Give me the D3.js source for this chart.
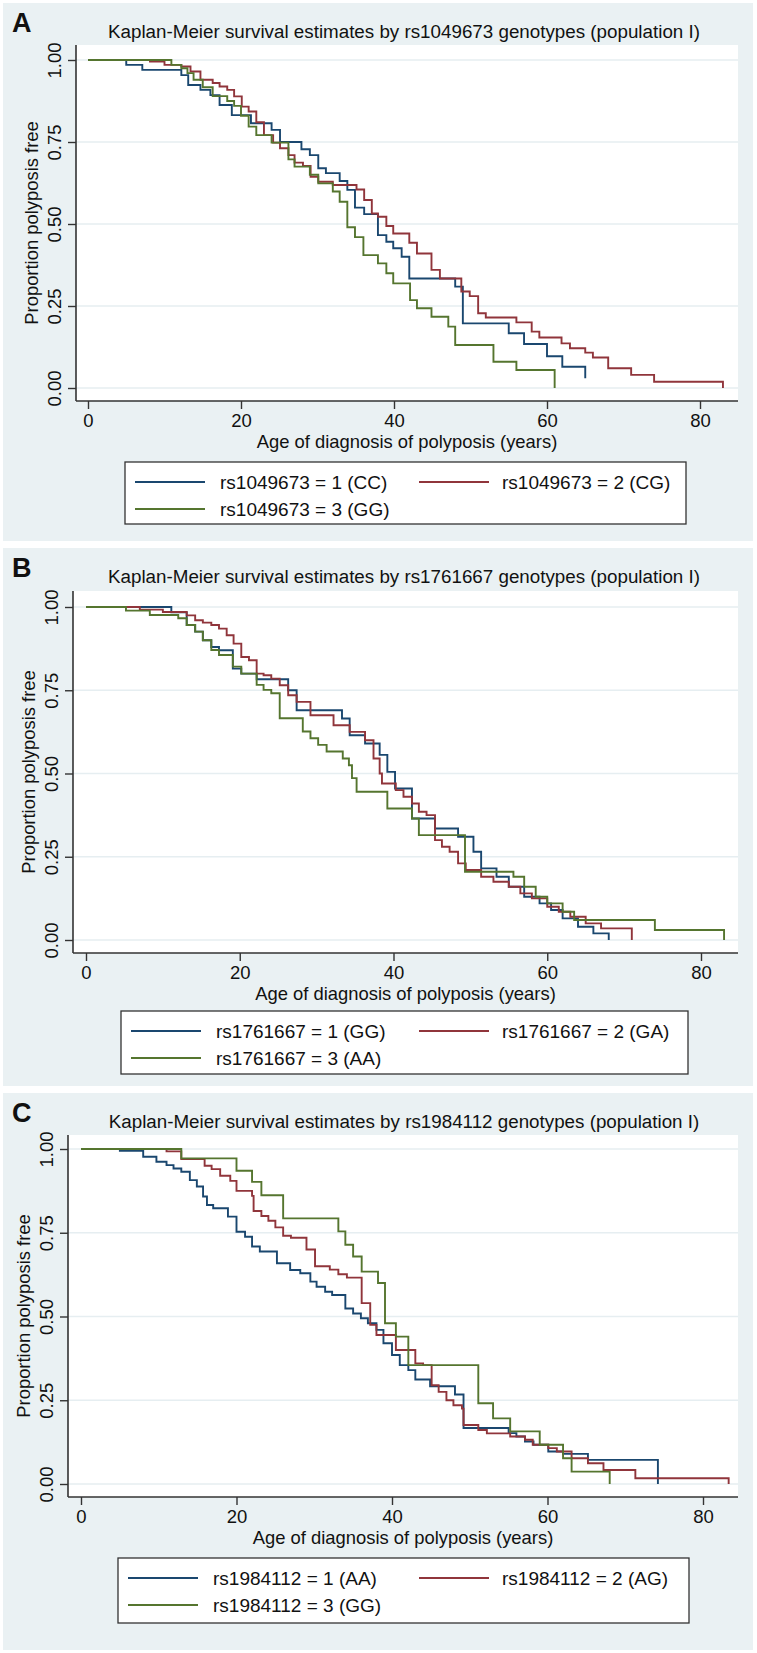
<!DOCTYPE html>
<html><head><meta charset="utf-8">
<script src="https://cdn.jsdelivr.net/npm/d3@7"></script>
<style>
body{margin:0;background:#fff;}
text{font-family:"Liberation Sans",Arial,Helvetica,sans-serif;fill:#111;}
</style>
</head><body>
<svg id="chart" width="757" height="1653"></svg>
<script>
// ---------- data ----------
const panelLetters = ["A", "B", "C"];
const snps = ["rs1049673", "rs1761667", "rs1984112"];
const genotypes = [["CC", "CG", "GG"], ["GG", "GA", "AA"], ["AA", "AG", "GG"]];
const xTicks = [0, 20, 40, 60, 80];
const yTicks = [0, 0.25, 0.5, 0.75, 1];
const yTickLabels = ["0.00", "0.25", "0.50", "0.75", "1.00"];
const xAxisTitle = "Age of diagnosis of polyposis (years)";
const yAxisTitle = "Proportion polyposis free";

// step points: [age, survival after the drop]
const A_g1 = [[0,1],[5,0.985],[7.1,0.97],[12.2,0.954],[13.1,0.924],[14.7,0.909],[16,0.893],[17.2,0.863],[18.8,0.832],[21.3,0.807],[24,0.787],[25.1,0.75],[27.9,0.728],[29,0.71],[30.1,0.67],[31.1,0.655],[32.9,0.631],[33.9,0.604],[34.9,0.55],[36.1,0.53],[37.9,0.466],[39,0.446],[39.9,0.426],[41,0.4],[42,0.334],[48,0.309],[49,0.197],[55,0.167],[57,0.134],[60,0.097],[62,0.065],[65,0.03]];
const A_g2 = [[0,1],[8.1,0.995],[10,0.985],[12.2,0.98],[13.4,0.965],[14.7,0.94],[16.3,0.93],[17.2,0.919],[18.2,0.909],[19.1,0.889],[20.1,0.858],[21,0.843],[22,0.81],[23,0.771],[24.2,0.748],[25.1,0.731],[26.2,0.71],[27,0.687],[28.1,0.677],[29.1,0.644],[30.1,0.629],[32,0.619],[35.1,0.605],[36.1,0.573],[37.1,0.532],[37.9,0.522],[39,0.494],[39.9,0.471],[42,0.443],[43,0.41],[44.9,0.36],[46,0.334],[48.8,0.294],[49.9,0.28],[51,0.228],[52,0.215],[56,0.2],[58,0.172],[59,0.154],[61.9,0.136],[63,0.121],[65,0.108],[66,0.093],[68,0.06],[71,0.04],[74,0.019],[83,0]];
const A_g3 = [[0,1],[10.9,0.985],[12.2,0.975],[13,0.96],[13.8,0.94],[15,0.917],[16.3,0.89],[18.2,0.875],[19.1,0.86],[20,0.83],[21,0.797],[22,0.771],[24,0.748],[26.2,0.697],[27,0.675],[29,0.65],[30.1,0.624],[32,0.599],[32.9,0.568],[33.9,0.49],[34.9,0.46],[36,0.405],[37.9,0.38],[39,0.35],[39.9,0.319],[42.1,0.268],[43,0.243],[44.9,0.217],[47.1,0.187],[48,0.131],[53,0.08],[56,0.055],[61,0]];

const B_g1 = [[0,1],[11.1,0.984],[13.1,0.946],[14.2,0.926],[15.2,0.9],[16.3,0.88],[17.3,0.87],[19.1,0.815],[20.2,0.8],[22.2,0.783],[26.3,0.75],[27.4,0.69],[33.3,0.665],[34.3,0.615],[36.3,0.59],[38.2,0.556],[39.2,0.505],[40.2,0.455],[42.4,0.365],[45.4,0.335],[48.4,0.31],[50.4,0.265],[51.4,0.215],[53.4,0.19],[55,0.16],[57,0.13],[59,0.11],[60.5,0.09],[62,0.065],[64,0.04],[66,0.02],[68,0]];
const B_g2 = [[0,1],[7,0.992],[10,0.985],[13.1,0.975],[14.2,0.96],[15.2,0.953],[16.3,0.946],[17.3,0.935],[18.3,0.915],[19.2,0.89],[20.2,0.85],[21.2,0.84],[22.2,0.8],[23.1,0.795],[24.1,0.785],[25.2,0.765],[26.3,0.735],[27.4,0.715],[29.2,0.675],[32.2,0.645],[34.3,0.625],[36.3,0.6],[37.4,0.545],[38.2,0.5],[38.5,0.47],[40.3,0.45],[41.3,0.43],[42.4,0.41],[43.3,0.385],[44.3,0.375],[45.4,0.3],[46.3,0.28],[47.3,0.265],[48.4,0.23],[49.4,0.21],[51.4,0.19],[53,0.175],[55,0.16],[56.5,0.14],[58,0.125],[60,0.1],[61.5,0.085],[63,0.07],[65,0.05],[67,0.035],[71,0]];
const B_g3 = [[0,1],[5.2,0.989],[8.3,0.976],[12,0.966],[13.1,0.946],[14.2,0.926],[15.2,0.9],[16.3,0.871],[17.3,0.856],[19.1,0.821],[20.2,0.8],[22.2,0.766],[23.1,0.751],[24.1,0.741],[25.2,0.666],[28.2,0.626],[29.2,0.606],[30.2,0.586],[31.3,0.566],[33.4,0.545],[34.2,0.525],[34.6,0.486],[35.2,0.445],[39.2,0.395],[42.4,0.365],[43.3,0.315],[49.3,0.205],[55.6,0.19],[57,0.16],[58.5,0.13],[60,0.11],[62,0.085],[63.5,0.06],[74,0.03],[83,0]];

const C_g1 = [[0,1],[5,0.995],[8,0.977],[9.7,0.962],[11,0.952],[11.9,0.942],[12.9,0.932],[14,0.907],[14.9,0.888],[15.7,0.858],[16.2,0.833],[17,0.823],[18.9,0.798],[20,0.753],[21.1,0.738],[22,0.709],[23,0.694],[25.2,0.659],[26.9,0.639],[28.2,0.629],[29.5,0.604],[30.3,0.589],[31.4,0.574],[32.3,0.564],[34,0.524],[35,0.509],[36,0.495],[36.9,0.48],[38,0.46],[38.9,0.42],[40,0.385],[41,0.355],[42.1,0.34],[43,0.312],[44.9,0.292],[48.1,0.267],[49.2,0.167],[55,0.152],[56,0.142],[57.1,0.127],[58.2,0.117],[60.1,0.097],[62,0.09],[65.2,0.072],[74.2,0]];
const C_g2 = [[0,1],[11,0.993],[12.9,0.97],[15.9,0.95],[16.8,0.94],[17.9,0.92],[19.2,0.905],[20,0.875],[22,0.86],[22.2,0.815],[23.2,0.8],[24.1,0.786],[25,0.766],[26,0.741],[27,0.735],[29,0.7],[30.1,0.65],[32,0.64],[33.1,0.626],[34.2,0.616],[36.1,0.54],[37.2,0.475],[38,0.445],[40.5,0.4],[43,0.36],[44,0.355],[45.1,0.295],[46,0.275],[47,0.25],[47.9,0.235],[49,0.225],[49.2,0.176],[51.1,0.161],[52.2,0.151],[55.2,0.142],[57.1,0.132],[58.1,0.117],[60.1,0.107],[61.2,0.097],[63.1,0.077],[65.2,0.062],[67.2,0.042],[71.3,0.017],[83.3,0]];
const C_g3 = [[0,1],[12.9,0.972],[20,0.935],[22,0.902],[23.2,0.862],[26,0.793],[33.1,0.754],[34,0.714],[35,0.679],[36.1,0.634],[38.2,0.6],[39.1,0.48],[40.5,0.44],[42.1,0.355],[51.1,0.241],[53,0.196],[55.2,0.157],[59,0.117],[62,0.077],[63.1,0.037],[68,0]];

const seriesByPanel = [[A_g1, A_g2, A_g3], [B_g1, B_g2, B_g3], [C_g1, C_g2, C_g3]];

// ---------- layout / style ----------
const colors = ["#1a476f", "#90353b", "#55752f"];
const bgColor = "#eaf1f3";
const layouts = [
  {top:0,    bg:[3,541],     axisX:76, x0:88, x80:700, y1:60,   y0:388,  axisY:401,  plotTop:45,   legend:[125,686,462,524]},
  {top:545,  bg:[548,1086],  axisX:73, x0:86, x80:701, y1:607,  y0:940,  axisY:953,  plotTop:591,  legend:[121,688,1011,1074]},
  {top:1090, bg:[1093,1650], axisX:68, x0:81, x80:703, y1:1149, y0:1484, axisY:1497, plotTop:1135, legend:[118,689,1558,1623]}
];
const plotRight = 738;
const FONT = "'Liberation Sans',Arial,sans-serif";

const svg = d3.select("#chart");
svg.append("rect").attr("width",757).attr("height",1653).attr("fill","#fff");

layouts.forEach((L, p) => {
  const g = svg.append("g");
  g.append("rect").attr("x",3).attr("y",L.bg[0]).attr("width",750).attr("height",L.bg[1]-L.bg[0]).attr("fill",bgColor);
  g.append("rect").attr("x",L.axisX).attr("y",L.plotTop).attr("width",plotRight-L.axisX).attr("height",L.axisY-L.plotTop).attr("fill","#fff");

  const x = d3.scaleLinear().domain([0,80]).range([L.x0, L.x80]);
  const y = d3.scaleLinear().domain([0,1]).range([L.y0, L.y1]);

  g.selectAll(".grid").data(yTicks).join("line")
    .attr("x1",L.axisX).attr("x2",plotRight)
    .attr("y1",d=>y(d)).attr("y2",d=>y(d))
    .attr("stroke","#e6eef1").attr("stroke-width",1.6);

  const yAxis = d3.axisLeft(y).tickValues(yTicks).tickFormat((d,i)=>yTickLabels[i]).tickSize(8).tickPadding(6);
  const ya = g.append("g").attr("transform",`translate(${L.axisX},0)`).call(yAxis);
  ya.select(".domain").attr("d",`M0,${L.plotTop}V${L.axisY}`).attr("stroke","#333").attr("stroke-width",1.6);
  ya.selectAll(".tick line").attr("stroke","#333").attr("stroke-width",1.4);
  ya.selectAll(".tick text")
    .attr("x",null).attr("dy",null).attr("text-anchor","middle")
    .attr("transform","translate(-15,0) rotate(-90)")
    .attr("font-size",18.5).attr("fill","#111").style("font-family",FONT);

  const xAxis = d3.axisBottom(x).tickValues(xTicks).tickFormat(d3.format("d")).tickSize(8).tickPadding(5);
  const xa = g.append("g").attr("transform",`translate(0,${L.axisY})`).call(xAxis);
  xa.select(".domain").attr("d",`M${L.axisX},0H${plotRight}`).attr("stroke","#333").attr("stroke-width",1.6);
  xa.selectAll(".tick line").attr("stroke","#333").attr("stroke-width",1.4);
  xa.selectAll(".tick text").attr("font-size",18.5).attr("fill","#111").style("font-family",FONT);

  const line = d3.line().x(d=>x(d[0])).y(d=>y(d[1])).curve(d3.curveStepAfter);
  seriesByPanel[p].forEach((s,i) => {
    g.append("path").datum(s).attr("d",line).attr("fill","none")
      .attr("stroke",colors[i]).attr("stroke-width",1.9).attr("stroke-linejoin","miter");
  });

  g.append("text").attr("x",12).attr("y",L.top+32).attr("font-size",27).attr("font-weight","bold")
    .style("font-family",FONT).text(panelLetters[p]);
  g.append("text").attr("x",404).attr("y",L.top+38).attr("text-anchor","middle").attr("font-size",18.8)
    .attr("fill","#222")
    .text(`Kaplan-Meier survival estimates by ${snps[p]} genotypes (population I)`);
  g.append("text").attr("x",(L.axisX+plotRight)/2).attr("y",L.axisY+47).attr("text-anchor","middle")
    .attr("font-size",18.4).text(xAxisTitle);
  const ymid = (L.plotTop+L.axisY)/2;
  g.append("text").attr("transform",`translate(${L.axisX-38},${ymid}) rotate(-90)`).attr("text-anchor","middle")
    .attr("font-size",18.4).text(yAxisTitle);

  const [lx1,lx2,ly1,ly2] = L.legend;
  g.append("rect").attr("x",lx1).attr("y",ly1).attr("width",lx2-lx1).attr("height",ly2-ly1)
    .attr("fill","#fff").attr("stroke","#333").attr("stroke-width",1.3);
  const items = genotypes[p].map((gt,i)=>({label:`${snps[p]} = ${i+1} (${gt})`, color:colors[i], col:i===1?1:0, row:i===2?1:0}));
  items.forEach(it => {
    const cy = ly1 + 20 + it.row*27;
    const lxA = it.col===0 ? lx1+10 : 419;
    const txA = it.col===0 ? lx1+95 : 502;
    g.append("line").attr("x1",lxA).attr("x2",lxA+70).attr("y1",cy).attr("y2",cy)
      .attr("stroke",it.color).attr("stroke-width",1.9);
    g.append("text").attr("x",txA).attr("y",cy+7).attr("font-size",19).text(it.label);
  });
});
</script>
</body></html>
